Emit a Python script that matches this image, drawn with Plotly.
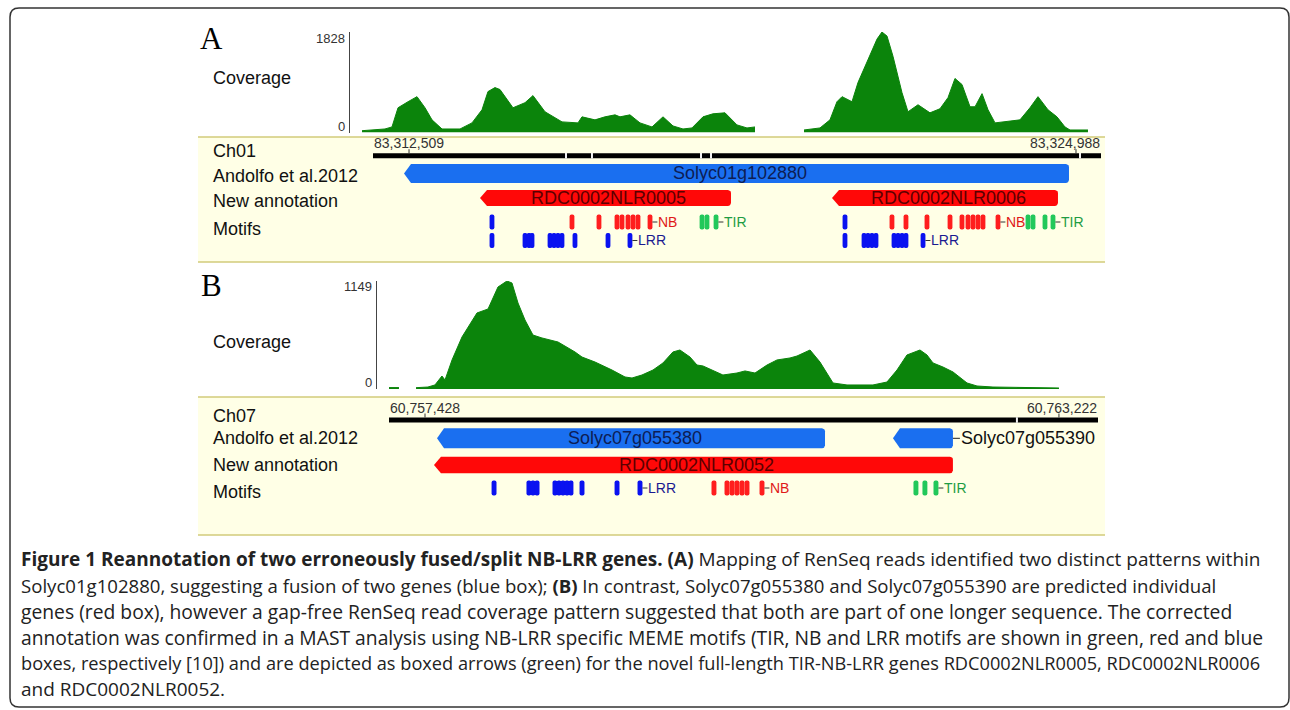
import math
import plotly.graph_objects as go

W, H = 1290, 710

# ============================ DATA ============================
# ---------- Panel A : Ch01 ----------
A_CHROM = "Ch01"
A_WIN_START = 83_311_835            # first base of the displayed window
A_WIN_LEN = 13_621                  # window length (bp)
A_TICKS = [83_312_509, 83_324_988]
A_RULER_BREAKS = [3611, 4097, 6137, 6324, 13228]   # bp offsets of breaks in the ruler
A_COV_MAX = 1828
A_COV1_POS = [0, 430, 561, 674, 861, 1029, 1179, 1310, 1497, 1834, 2058, 2245, 2357, 2488,
              2582, 2825, 3050, 3199, 3424, 3574, 3742, 4041, 4116, 4359, 4547, 4734, 4827,
              5014, 5201, 5426, 5632, 5819, 6006, 6174, 6380, 6567, 6792, 7016, 7203, 7353]
A_COV1_VAL = [33, 64, 101, 450, 560, 652, 450, 230, 64, 64, 175, 413, 744, 817,
              781, 450, 542, 671, 377, 285, 193, 175, 285, 230, 285, 321, 285,
              321, 175, 101, 285, 119, 64, 83, 285, 340, 358, 138, 83, 101]
A_COV2_POS = [8270, 8569, 8756, 8887, 8981, 9168, 9280, 9449, 9636, 9729, 9823, 9935, 10103,
              10216, 10403, 10627, 10814, 10964, 11095, 11226, 11376, 11470, 11601, 11713,
              11844, 12311, 12498, 12648, 12835, 13003, 13153, 13247, 13583]
A_COV2_VAL = [46, 83, 230, 560, 652, 560, 909, 1277, 1699, 1828, 1754, 1387, 726,
              377, 505, 358, 432, 634, 983, 873, 468, 468, 707, 413,
              175, 230, 450, 652, 413, 285, 101, 46, 46]
A_GENE_NAME = ["Solyc01g102880", "RDC0002NLR0005", "RDC0002NLR0006"]
A_GENE_TRACK = ["Andolfo", "New", "New"]
A_GENE_START = [580, 2002, 8588]
A_GENE_END = [13022, 6698, 12816]
A_MOTIF_LEN = 90
A_LRR_POS = [2226, 8831, 2226, 2844, 2919, 2975, 3312, 3387, 3461, 3536, 3779, 4397, 4808,
             8831, 9187, 9261, 9336, 9411, 9748, 9823, 9898, 9972, 10291]
A_LRR_ROW = [1, 1, 2, 2, 2, 2, 2, 2, 2, 2, 2, 2, 2, 2, 2, 2, 2, 2, 2, 2, 2, 2, 2]
A_NB_POS = [3723, 4228, 4565, 4659, 4771, 4865, 4958, 5183, 9710, 9972, 10365, 10796,
            11020, 11132, 11226, 11320, 11413, 11694]
A_NB_ROW = [1] * 18
A_TIR_POS = [6156, 6249, 6418, 12255, 12349, 12573, 12723]
A_TIR_ROW = [1] * 7

# ---------- Panel B : Ch07 ----------
B_CHROM = "Ch07"
B_WIN_START = 60_757_099
B_WIN_LEN = 6_480
B_TICKS = [60_757_428, 60_763_222]
B_RULER_BREAKS = [5739]
B_COV_MAX = 1149
B_COV1_POS = [0, 91]
B_COV1_VAL = [15, 15]
B_COV2_POS = [247, 356, 420, 484, 512, 576, 667, 722, 804, 905, 950, 996, 1078, 1124, 1179,
              1243, 1316, 1398, 1545, 1700, 1764, 1883, 2038, 2157, 2221, 2312, 2413, 2504,
              2595, 2659, 2751, 2815, 2870, 3052, 3180, 3254, 3345, 3455, 3546, 3665, 3729,
              3848, 3939, 4058, 4186, 4423, 4551, 4643, 4734, 4853, 4917, 4972, 5063, 5155,
              5283, 5374, 5520, 6123]
B_COV2_VAL = [14, 21, 43, 138, 96, 309, 553, 660, 809, 851, 968, 1085, 1149, 1128, 915,
              734, 574, 543, 500, 394, 340, 287, 202, 128, 117, 149, 202, 277,
              394, 415, 340, 255, 245, 149, 170, 192, 170, 255, 309, 330, 351,
              415, 287, 64, 43, 43, 74, 202, 362, 415, 362, 277, 234, 181,
              64, 32, 21, 11]
B_GENE_NAME = ["Solyc07g055380", "Solyc07g055390", "RDC0002NLR0052"]
B_GENE_TRACK = ["Andolfo", "Andolfo", "New"]
B_GENE_START = [439, 4606, 411]
B_GENE_END = [3985, 5154, 5154]
B_MOTIF_LEN = 45
B_LRR_POS = [960, 1279, 1316, 1353, 1517, 1554, 1590, 1627, 1663, 1764, 2084, 2294]
B_LRR_ROW = [1] * 12
B_NB_POS = [2970, 3089, 3135, 3180, 3226, 3272, 3409]
B_NB_ROW = [1] * 7
B_TIR_POS = [4816, 4898, 4999]
B_TIR_ROW = [1] * 3

TRACK_LABELS = ["Andolfo et al.2012", "New annotation", "Motifs"]

CAPTION = [
    "<b>Figure 1 Reannotation of two erroneously fused/split NB-LRR genes. (A)</b> Mapping of RenSeq reads identified two distinct patterns within",
    "Solyc01g102880, suggesting a fusion of two genes (blue box); <b>(B)</b> In contrast, Solyc07g055380 and Solyc07g055390 are predicted individual",
    "genes (red box), however a gap-free RenSeq read coverage pattern suggested that both are part of one longer sequence. The corrected",
    "annotation was confirmed in a MAST analysis using NB-LRR specific MEME motifs (TIR, NB and LRR motifs are shown in green, red and blue",
    "boxes, respectively [10]) and are depicted as boxed arrows (green) for the novel full-length TIR-NB-LRR genes RDC0002NLR0005, RDC0002NLR0006",
    "and RDC0002NLR0052.",
]

# ============================ STYLE ============================
SANS = "Liberation Sans, Arial, sans-serif"
COV_GREEN = "#0b840b"
GENE_COLOR = {"Andolfo": "#1a6ff0", "New": "#ff0808"}
GENE_TEXT = {"Andolfo": "#0d1d55", "New": "#5c0000"}
MOTIF_COLOR = {"LRR": "#0a12f0", "NB": "#ff1e1e", "TIR": "#22c85a"}
MOTIF_TEXT = {"LRR": "#1a1a90", "NB": "#e01818", "TIR": "#1f9c44"}
YELLOW = "#ffffe6"
OLIVE = "#d2cb7a"
CAPTION_SIZES = [19.0, 18.6, 19.3, 19.3, 18.2, 19.0]

fig = go.Figure()


def axis_key(a):
    return a[0] + "axis" + a[1:]


def gene_poly(start, end, yc, h, head, rx, ry):
    top, bot = yc - h / 2, yc + h / 2
    xs, ys = [start, start + head], [yc, top]
    for k in range(7):
        t = math.pi / 2 * k / 6
        xs.append(end - rx + rx * math.sin(t)); ys.append(top + ry - ry * math.cos(t))
    for k in range(7):
        t = math.pi / 2 * k / 6
        xs.append(end - rx + rx * math.cos(t)); ys.append(bot - ry + ry * math.sin(t))
    xs += [start + head, start]
    ys += [bot, yc]
    return xs, ys


def add_panel(P):
    cx, cy, tx, ty = P["axes"]
    s0, L = P["win_start"], P["win_len"]
    cb, tb = P["cov_box"], P["track_box"]
    rows = P["rows"]
    bpp = L / (tb["x1"] - tb["x0"])
    span_y = tb["bottom"] - tb["top"]

    fig.update_layout(**{
        axis_key(cx): dict(domain=[cb["x0"] / W, cb["x1"] / W], range=[s0, s0 + L],
                           visible=False, fixedrange=True, anchor=cy, automargin=False),
        axis_key(cy): dict(domain=[1 - cb["y_base"] / H, 1 - cb["y_top"] / H],
                           range=[0, P["cov_max"]], anchor="free", position=cb["axis_x"] / W,
                           side="left", showline=True, linecolor="#444", linewidth=1,
                           ticks="inside", ticklen=4, tickcolor="#444",
                           tickvals=[0, P["cov_max"]], showticklabels=False,
                           showgrid=False, zeroline=False, fixedrange=True, automargin=False),
        axis_key(tx): dict(domain=[tb["x0"] / W, tb["x1"] / W], range=[s0, s0 + L],
                           visible=False, fixedrange=True, anchor=ty, automargin=False),
        axis_key(ty): dict(domain=[1 - tb["bottom"] / H, 1 - tb["top"] / H],
                           range=[span_y, 0], visible=False, fixedrange=True, anchor=tx,
                           automargin=False),
    })
    # coverage scale labels, drawn just inside the axis ends as in the source
    for val, shift in ((P["cov_max"], -6), (0, 6)):
        fig.add_annotation(x=(cb["axis_x"] - 3) / W, xref="paper", xanchor="right",
                           y=val, yref=cy, yshift=shift, yanchor="middle", showarrow=False,
                           text=str(val), borderpad=0,
                           font=dict(family=SANS, size=13, color="#333"))

    # yellow track background
    fig.add_shape(type="rect", xref="paper", yref="paper", layer="below",
                  x0=P["bg_x"][0] / W, x1=P["bg_x"][1] / W,
                  y0=1 - tb["bottom"] / H, y1=1 - tb["top"] / H,
                  fillcolor=YELLOW, line=dict(width=0))
    for yy in (tb["top"], tb["bottom"]):
        fig.add_shape(type="line", xref="paper", yref="paper", layer="below",
                      x0=P["bg_x"][0] / W, x1=P["bg_x"][1] / W,
                      y0=1 - yy / H, y1=1 - yy / H, line=dict(color=OLIVE, width=1.5))

    # coverage
    for pos, val in P["cov"]:
        fig.add_trace(go.Scatter(x=[s0 + p for p in pos], y=val, mode="lines", fill="tozeroy",
                                 line=dict(color=COV_GREEN, width=1), fillcolor=COV_GREEN,
                                 xaxis=cx, yaxis=cy, hoverinfo="skip", showlegend=False))

    # ruler
    ry = rows["ruler"]
    fig.add_trace(go.Bar(x=[L], base=[s0], y=[ry], orientation="h", width=5,
                         marker=dict(color="#000000", line=dict(width=0)),
                         xaxis=tx, yaxis=ty, hoverinfo="skip", showlegend=False))
    nb = len(P["breaks"])
    fig.add_trace(go.Bar(x=[2 * bpp] * nb, base=[s0 + b - bpp for b in P["breaks"]], y=[ry] * nb,
                         orientation="h", width=5.6,
                         marker=dict(color="#f2f2f2", line=dict(width=0)),
                         xaxis=tx, yaxis=ty, hoverinfo="skip", showlegend=False))
    tx_line, ty_line = [], []
    for t in P["ticks"]:
        tx_line += [t, t, None]
        ty_line += [ry - 2.5, ry - 6.5, None]
    fig.add_trace(go.Scatter(x=tx_line, y=ty_line, mode="lines", line=dict(color="#333", width=1),
                             xaxis=tx, yaxis=ty, hoverinfo="skip", showlegend=False))
    for i, t in enumerate(P["ticks"]):
        last = i == len(P["ticks"]) - 1
        fig.add_annotation(x=(s0 + L) if last else t, xanchor="right" if last else "center",
                           y=ry - 3.5, yanchor="bottom", xref=tx, yref=ty, showarrow=False,
                           text=f"{t:,}", font=dict(family=SANS, size=14, color="#333"),
                           borderpad=0)

    # genes
    for name, trk, gs, ge in zip(P["gene_name"], P["gene_track"], P["gene_start"], P["gene_end"]):
        yc = rows[trk]
        h = P["gene_h"][trk]
        xs, ys = gene_poly(s0 + gs, s0 + ge, yc, h, 7 * bpp, 3 * bpp, 3)
        fig.add_trace(go.Scatter(x=xs, y=ys, mode="lines", fill="toself",
                                 fillcolor=GENE_COLOR[trk], line=dict(width=0, color=GENE_COLOR[trk]),
                                 xaxis=tx, yaxis=ty, hoverinfo="skip", showlegend=False))
        gene_px = (ge - gs) / bpp
        if len(name) * 18 * 0.56 < gene_px - 10:
            fig.add_annotation(x=s0 + (gs + ge) / 2 + 3.5 * bpp, y=yc, xref=tx, yref=ty,
                               showarrow=False, text=name, borderpad=0,
                               font=dict(family=SANS, size=18, color=GENE_TEXT[trk]))
        else:
            x_end = s0 + ge + 7 * bpp
            fig.add_trace(go.Scatter(x=[s0 + ge, x_end], y=[yc, yc], mode="lines",
                                     line=dict(color="#222", width=1),
                                     xaxis=tx, yaxis=ty, hoverinfo="skip", showlegend=False))
            fig.add_annotation(x=x_end, y=yc, xanchor="left", xref=tx, yref=ty,
                               showarrow=False, text=name, borderpad=0,
                               font=dict(family=SANS, size=18, color="#111"))

    # motifs
    mlen = P["motif_len"]
    for mtype, pos, mrow in P["motifs"]:
        fig.add_trace(go.Bar(x=[mlen] * len(pos), base=[s0 + p - mlen / 2 for p in pos],
                             y=[rows[r] for r in mrow], orientation="h", width=15,
                             marker=dict(color=MOTIF_COLOR[mtype], line=dict(width=0), cornerradius=2),
                             xaxis=tx, yaxis=ty, hoverinfo="skip", showlegend=False))
    # motif labels after the last motif of each type in each new gene
    for trk, gs, ge in zip(P["gene_track"], P["gene_start"], P["gene_end"]):
        if trk != "New":
            continue
        for mtype, pos, mrow in P["motifs"]:
            inside = [(p, r) for p, r in zip(pos, mrow) if gs <= p <= ge]
            if not inside:
                continue
            p, r = max(inside)
            x1 = s0 + p + mlen / 2
            x2 = x1 + 5 * bpp
            yc = rows[r]
            fig.add_trace(go.Scatter(x=[x1, x2], y=[yc, yc], mode="lines",
                                     line=dict(color="#333", width=1),
                                     xaxis=tx, yaxis=ty, hoverinfo="skip", showlegend=False))
            fig.add_annotation(x=x2, y=yc, xanchor="left", xref=tx, yref=ty, showarrow=False,
                               text=mtype, borderpad=0,
                               font=dict(family=SANS, size=14, color=MOTIF_TEXT[mtype]))

    # left labels
    labels = [("Coverage", P["label_y"][0]), (P["chrom"], P["label_y"][1])] + \
             list(zip(TRACK_LABELS, P["label_y"][2:]))
    for txt, yy in labels:
        fig.add_annotation(x=212 / W, y=1 - yy / H, xref="paper", yref="paper", xanchor="left",
                           yanchor="middle", showarrow=False, text=txt, borderpad=0,
                           font=dict(family=SANS, size=18, color="#111"))
    fig.add_annotation(x=P["letter_xy"][0] / W, y=1 - P["letter_xy"][1] / H, xref="paper",
                       yref="paper", xanchor="left", yanchor="middle", showarrow=False,
                       text=P["letter"], borderpad=0,
                       font=dict(family="Liberation Serif, Times New Roman, serif", size=31,
                                 color="#000"))


panel_A = dict(
    axes=("x", "y", "x2", "y2"), letter="A", letter_xy=(199, 38), chrom=A_CHROM,
    win_start=A_WIN_START, win_len=A_WIN_LEN, ticks=A_TICKS, breaks=A_RULER_BREAKS,
    cov_max=A_COV_MAX, cov=[(A_COV1_POS, A_COV1_VAL), (A_COV2_POS, A_COV2_VAL)],
    gene_name=A_GENE_NAME, gene_track=A_GENE_TRACK, gene_start=A_GENE_START, gene_end=A_GENE_END,
    motif_len=A_MOTIF_LEN,
    motifs=[("LRR", A_LRR_POS, A_LRR_ROW), ("NB", A_NB_POS, A_NB_ROW), ("TIR", A_TIR_POS, A_TIR_ROW)],
    cov_box=dict(x0=362, x1=1090, y_top=32, y_base=132.5, axis_x=349),
    track_box=dict(x0=373, x1=1101, top=137, bottom=262),
    bg_x=(198, 1105),
    rows={"ruler": 18.7, "Andolfo": 36.5, "New": 61.0, 1: 85.0, 2: 103.5},
    gene_h={"Andolfo": 19, "New": 16},
    label_y=[78, 151, 176, 201, 229],
)

panel_B = dict(
    axes=("x3", "y3", "x4", "y4"), letter="B", letter_xy=(200, 285), chrom=B_CHROM,
    win_start=B_WIN_START, win_len=B_WIN_LEN, ticks=B_TICKS, breaks=B_RULER_BREAKS,
    cov_max=B_COV_MAX, cov=[(B_COV1_POS, B_COV1_VAL), (B_COV2_POS, B_COV2_VAL)],
    gene_name=B_GENE_NAME, gene_track=B_GENE_TRACK, gene_start=B_GENE_START, gene_end=B_GENE_END,
    motif_len=B_MOTIF_LEN,
    motifs=[("LRR", B_LRR_POS, B_LRR_ROW), ("NB", B_NB_POS, B_NB_ROW), ("TIR", B_TIR_POS, B_TIR_ROW)],
    cov_box=dict(x0=389, x1=1098, y_top=281, y_base=389, axis_x=376),
    track_box=dict(x0=389, x1=1098, top=397, bottom=535),
    bg_x=(198, 1105),
    rows={"ruler": 23.0, "Andolfo": 41.3, "New": 68.0, 1: 91.0},
    gene_h={"Andolfo": 20, "New": 16.6},
    label_y=[342, 416, 438, 465, 492],
)

add_panel(panel_A)
add_panel(panel_B)

# caption
for i, line in enumerate(CAPTION):
    fig.add_annotation(x=20 / W, y=1 - (559 + 26 * i) / H, xref="paper", yref="paper",
                       xanchor="left", yanchor="middle", showarrow=False, text=line, borderpad=0,
                       font=dict(family="Open Sans, sans-serif", size=CAPTION_SIZES[i], color="#222"))

# outer rounded border
x0, x1, y0, y1 = 10 / W, 1289 / W, 1 - 707 / H, 1 - 8 / H
rx, ry = 9 / W, 9 / H
path = (f"M {x0 + rx},{y1} L {x1 - rx},{y1} Q {x1},{y1} {x1},{y1 - ry} "
        f"L {x1},{y0 + ry} Q {x1},{y0} {x1 - rx},{y0} L {x0 + rx},{y0} "
        f"Q {x0},{y0} {x0},{y0 + ry} L {x0},{y1 - ry} Q {x0},{y1} {x0 + rx},{y1} Z")
fig.add_shape(type="path", path=path, xref="paper", yref="paper",
              line=dict(color="#333", width=1.5), fillcolor="rgba(0,0,0,0)")

fig.update_layout(width=W, height=H, autosize=False,
                  margin=dict(l=0, r=0, t=0, b=0, pad=0, autoexpand=False),
                  paper_bgcolor="white", plot_bgcolor="rgba(0,0,0,0)",
                  barmode="overlay", showlegend=False, hovermode=False)

PIN_PAGE = (
    "document.documentElement.style.margin='0';"
    "document.documentElement.style.overflow='hidden';"
    "document.body.style.margin='0';"
    "document.body.style.overflow='hidden';"
    "var gd=document.getElementsByClassName('plotly-graph-div')[0];"
    "gd.style.position='absolute';gd.style.top='0px';gd.style.left='0px';"
)
fig.write_html("out.html", config={"displayModeBar": False, "responsive": False},
               post_script=PIN_PAGE)
